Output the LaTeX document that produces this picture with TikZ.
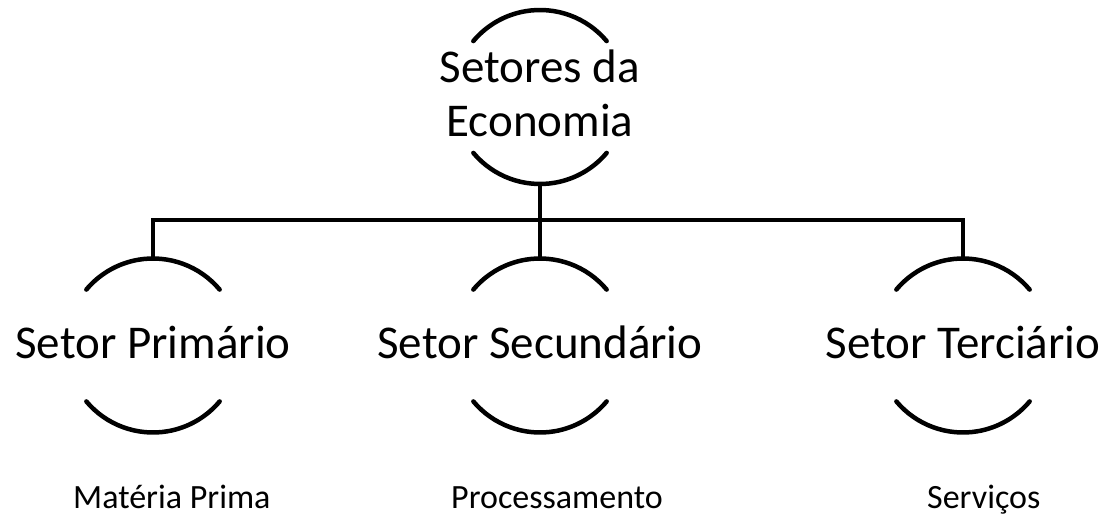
\documentclass[tikz,border=0pt]{standalone}
\usepackage{fontspec}
\setmainfont{Carlito}
\begin{document}
\begin{tikzpicture}[x=1pt,y=1pt,
  ring/.style={circle, minimum size=174pt, inner sep=0pt, outer sep=0pt},
  bigtext/.style={font=\fontsize{47}{54}\selectfont, inner sep=0pt, anchor=base},
  smalltext/.style={font=\fontsize{34}{40}\selectfont, inner sep=0pt, anchor=base west},
  arcline/.style={line width=4.5pt, line cap=round},
  link/.style={line width=4.5pt}]
\useasboundingbox (0,0) rectangle (1112,515);
% circles (only top and bottom arcs visible)
\node[ring] (c0) at (540,418) {};
\node[ring] (c1) at (153,169.5) {};
\node[ring] (c2) at (540,169.5) {};
\node[ring] (c3) at (963,169.5) {};
\foreach \c in {c0,c1,c2,c3}{
  \draw[arcline] (\c.40) arc[start angle=40, end angle=140, radius=87pt];
  \draw[arcline] (\c.220) arc[start angle=220, end angle=320, radius=87pt];
}
% texts
\node[bigtext] (t0) at (540,432) {\begin{tabular}[t]{@{}c@{}}Setores da\\Economia\end{tabular}};
\node[bigtext] (t1) at (153,157) {Setor Primário};
\node[bigtext] (t2) at (540,157) {Setor Secundário};
\node[bigtext] (t3) at (963,157) {Setor Terciário};
\node[smalltext] (l1) at (73,7) {Matéria Prima};
\node[smalltext] (l2) at (451,7) {Processamento};
\node[smalltext] (l3) at (927,7) {Serviços};
% connectors
\coordinate (bus) at (540,295);
\draw[link] (c0.south) -- (c2.north);
\draw[link] (c1.north) |- (bus) -| (c3.north);
\end{tikzpicture}
\end{document}
